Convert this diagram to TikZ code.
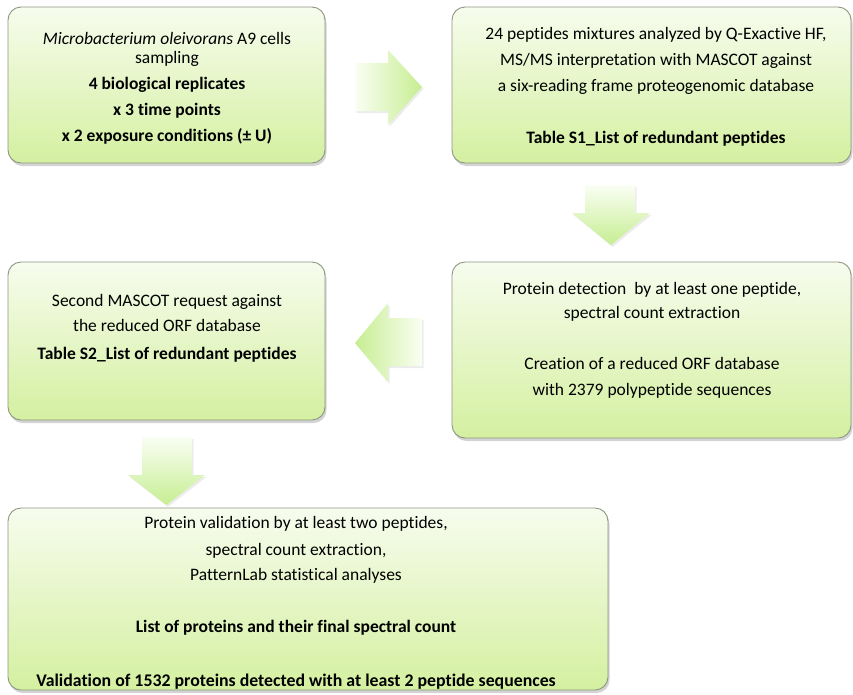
\documentclass[tikz,border=0pt]{standalone}
\usepackage{fontspec}
\setmainfont{Carlito}[Ligatures=NoCommon]
\usetikzlibrary{shadows}
\definecolor{gtop}{RGB}{247,252,238}
\definecolor{gbot}{RGB}{212,240,160}
\definecolor{gborder}{RGB}{140,150,130}
\definecolor{apale}{RGB}{250,254,244}
\definecolor{agreen}{RGB}{198,238,145}
\tikzset{
  box/.style={draw=gborder, line width=0.9pt, rounded corners=13pt,
    top color=gtop, bottom color=gbot,
    drop shadow={shadow xshift=1.5pt, shadow yshift=-3pt, opacity=0.35}},
  blockarrow/.style={draw=none,
    drop shadow={shadow xshift=1.5pt, shadow yshift=-2pt, opacity=0.15}},
  txt/.style={font=\fontsize{17.5}{20}\selectfont, align=center, inner sep=0pt, anchor=base},
}
\begin{document}
\begin{tikzpicture}[x=1pt,y=-1pt]
\useasboundingbox (0,0) rectangle (853,694);
% boxes
\path[box] (8,7) rectangle (325,163);
\path[box] (452,7) rectangle (851,163);
\path[box] (452,262) rectangle (851,438);
\path[box] (8,262) rectangle (325,420);
\path[box] (8,508) rectangle (608,690);
\node[inner sep=0pt] (b1) at (166.5,85) {};
\node[inner sep=0pt] (b2) at (651.5,85) {};
\node[inner sep=0pt] (b3) at (651.5,350) {};
\node[inner sep=0pt] (b4) at (166.5,341) {};
\node[inner sep=0pt] (b5) at (308,599) {};
% block arrows
\path[blockarrow, left color=apale, right color=agreen]
  (355,63) -- (388,63) -- (388,50) -- (422,87) -- (388,125) -- (388,111) -- (355,111) -- cycle;
\path[blockarrow, top color=apale, bottom color=agreen]
  (585,185) -- (635,185) -- (635,213) -- (650,213) -- (611,245) -- (572,213) -- (585,213) -- cycle;
\path[blockarrow, right color=apale, left color=agreen]
  (422,318) -- (388,318) -- (388,303) -- (355,343) -- (388,382) -- (388,366) -- (422,366) -- cycle;
\path[blockarrow, top color=apale, bottom color=agreen]
  (142,437) -- (192,437) -- (192,475) -- (205,475) -- (166.5,505) -- (128,475) -- (142,475) -- cycle;
% texts box 1
\node[txt] (t11) at (167,44) {\textit{Microbacterium oleivorans} A9 cells};
\node[txt] (t12) at (167,63) {sampling};
\node[txt] (t13) at (167,89) {\textbf{4 biological replicates}};
\node[txt] (t14) at (167,115) {\textbf{x 3 time points}};
\node[txt] (t15) at (167,141) {\textbf{x 2 exposure conditions (± U)}};
% box 2
\node[txt] (t21) at (656,39) {24 peptides mixtures analyzed by Q-Exactive HF,};
\node[txt] (t22) at (656,65) {MS/MS interpretation with MASCOT against};
\node[txt] (t23) at (656,91) {a six-reading frame proteogenomic database};
\node[txt] (t24) at (656,143) {\textbf{Table S1\_List of redundant peptides}};
% box 3
\node[txt] (t31) at (652,294) {Protein detection\ \ by at least one peptide,};
\node[txt] (t32) at (652,318) {spectral count extraction};
\node[txt] (t33) at (652,369) {Creation of a reduced ORF database};
\node[txt] (t34) at (652,395) {with 2379 polypeptide sequences};
% box 4
\node[txt] (t41) at (167,306) {Second MASCOT request against};
\node[txt] (t42) at (167,331) {the reduced ORF database};
\node[txt] (t43) at (167,359) {\textbf{Table S2\_List of redundant peptides}};
% box 5
\node[txt] (t51) at (296,528) {Protein validation by at least two peptides,};
\node[txt] (t52) at (296,555) {spectral count extraction,};
\node[txt] (t53) at (296,580) {PatternLab statistical analyses};
\node[txt] (t54) at (296,632) {\textbf{List of proteins and their final spectral count}};
\node[txt] (t55) at (296,686) {\fontsize{17.8}{20}\selectfont\textbf{Validation of 1532 proteins detected with at least 2 peptide sequences}};
\end{tikzpicture}
\end{document}
